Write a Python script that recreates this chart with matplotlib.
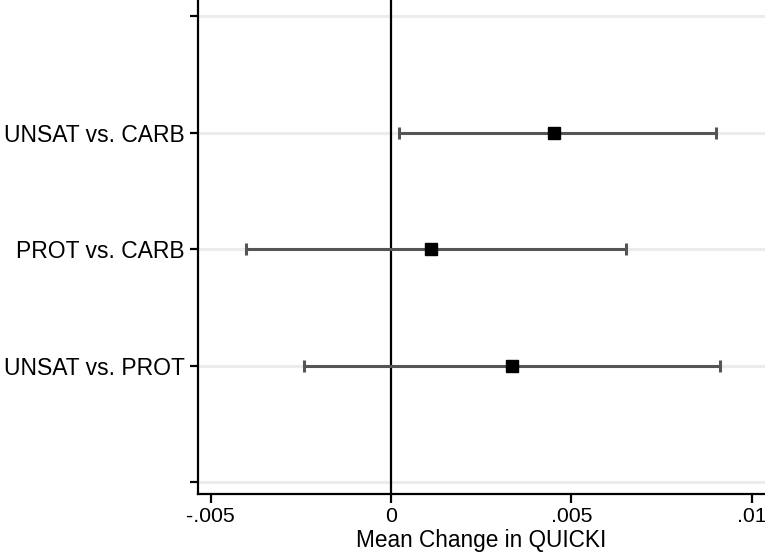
import numpy as np
import matplotlib.pyplot as plt

plt.rcParams['font.family'] = ['Liberation Sans', 'DejaVu Sans']

comparisons = ["UNSAT vs. CARB", "PROT vs. CARB", "UNSAT vs. PROT"]
ypos = [3, 2, 1]
est = [0.00451, 0.00112, 0.00335]
ci_low = [0.00022, -0.00401, -0.00240]
ci_high = [0.00900, 0.00651, 0.00911]

xticks = [-0.005, 0, 0.005, 0.01]
xticklabels = ["-.005", "0", ".005", ".01"]

fig = plt.figure(figsize=(7.65, 5.54), dpi=100)
ax = fig.add_axes([0.2588, 0.1083, 0.7412, 0.8917])

# light grid lines at every y tick
for y in [0, 1, 2, 3, 4]:
    ax.axhline(y, color='#ececec', lw=2.2, zorder=0)

ax.axvline(0, color='black', lw=1.6, zorder=1)

est = np.array(est)
err = [est - np.array(ci_low), np.array(ci_high) - est]
ax.errorbar(est, ypos, xerr=err, fmt='none', ecolor='#555555',
            elinewidth=2.2, capsize=4.6, capthick=2.2, zorder=2)
ax.plot(est, ypos, 's', color='black', markersize=9, zorder=3)

ax.set_xlim(-0.00535, 0.01037)
ax.set_ylim(-0.103, 4.141)

ax.set_yticks([0, 1, 2, 3, 4])
ax.set_yticklabels(["", comparisons[2], comparisons[1], comparisons[0], ""])
ax.set_xticks(xticks)
ax.set_xticklabels(xticklabels)

ax.tick_params(axis='y', labelsize=16.5, width=1.6, length=6, pad=3.5)
ax.tick_params(axis='x', labelsize=15.3, width=1.6, length=6.5, pad=3)
ax.set_xlabel("Mean Change in QUICKI", fontsize=16.3, va='baseline')
ax.xaxis.set_label_coords(0.5, -0.108)

ax.spines['top'].set_visible(False)
ax.spines['right'].set_visible(False)
ax.spines['left'].set_linewidth(1.6)
ax.spines['bottom'].set_linewidth(1.6)

fig.savefig("out.png", dpi=100)
